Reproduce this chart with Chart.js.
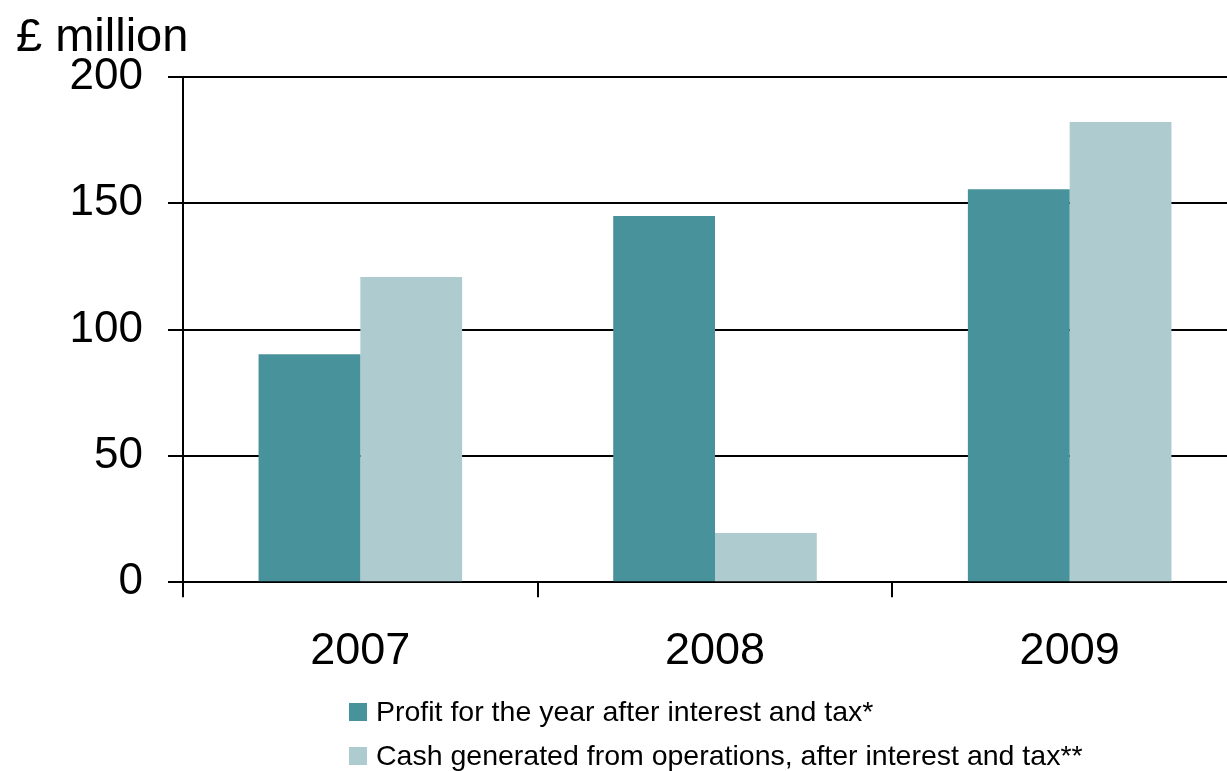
<!DOCTYPE html>
<html>
<head>
<meta charset="utf-8">
<script src="https://cdn.jsdelivr.net/npm/chart.js@4"></script>
<style>
  html, body { margin: 0; padding: 0; background: #fff; overflow: hidden; width: 1227px; height: 771px; }
  #wrap { position: absolute; left: 0; top: 0; width: 1247px; height: 771px; }
  #unit { position: absolute; left: 16px; top: 11px; font: 47px "Liberation Sans", Arial, sans-serif; line-height: 1; color: #000; white-space: nowrap; }
  .leg { position: absolute; left: 349px; font: 28.5px "Liberation Sans", Arial, sans-serif; line-height: 1; color: #000; white-space: nowrap; }
  .leg span.sw { display: inline-block; width: 18px; height: 18px; margin-right: 9px; vertical-align: baseline; }
</style>
</head>
<body>
<div id="wrap"><canvas id="grafico" width="1247" height="771"></canvas></div>
<div id="unit">£ million</div>
<div id="leyenda"></div>
<script>
// datos
const years = ["2007", "2008", "2009"];
const profit = [90.3, 145.0, 155.6];
const cash = [120.8, 19.5, 182.2];
const yTicks = [0, 50, 100, 150, 200];
const seriesNames = [
  "Profit for the year after interest and tax*",
  "Cash generated from operations, after interest and tax**"
];
const colores = ["#48939b", "#aecbcf"];

const fuente = "'Liberation Sans', Arial, sans-serif";

const chart = new Chart(document.getElementById("grafico"), {
  type: "bar",
  data: {
    labels: years,
    datasets: [
      { label: seriesNames[0], data: profit, backgroundColor: colores[0], categoryPercentage: 0.574, barPercentage: 1.0 },
      { label: seriesNames[1], data: cash, backgroundColor: colores[1], categoryPercentage: 0.574, barPercentage: 1.0 }
    ]
  },
  options: {
    responsive: false,
    animation: false,
    layout: { padding: { top: 77, right: 0, bottom: 0, left: 0 } },
    plugins: { legend: { display: false }, tooltip: { enabled: false } },
    scales: {
      x: {
        offset: true,
        grid: { offset: true, drawOnChartArea: false, drawTicks: true, tickLength: 15, color: "#000", lineWidth: 2 },
        border: { display: true, color: "#000", width: 2 },
        ticks: { color: "#000", font: { family: fuente, size: 45 }, padding: 27, maxRotation: 0 },
        afterFit: s => { s.height = 771 - 77 - 505.3; }
      },
      y: {
        min: 0, max: 200,
        afterBuildTicks: s => { s.ticks = yTicks.map(v => ({ value: v })); },
        grid: { color: "#000", lineWidth: 2, drawTicks: true, tickLength: 15 },
        border: { display: true, color: "#000", width: 2 },
        ticks: { color: "#000", font: { family: fuente, size: 44 }, padding: 25 },
        afterFit: s => { s.width = 183; }
      }
    }
  }
});

// leyenda en html, alineada a la izquierda como en el original
const ley = document.getElementById("leyenda");
const tops = [697, 741];
seriesNames.forEach((n, i) => {
  const d = document.createElement("div");
  d.className = "leg";
  d.style.top = tops[i] + "px";
  d.innerHTML = `<span class="sw" style="background:${colores[i]}"></span>${n}`;
  ley.appendChild(d);
});
</script>
</body>
</html>
